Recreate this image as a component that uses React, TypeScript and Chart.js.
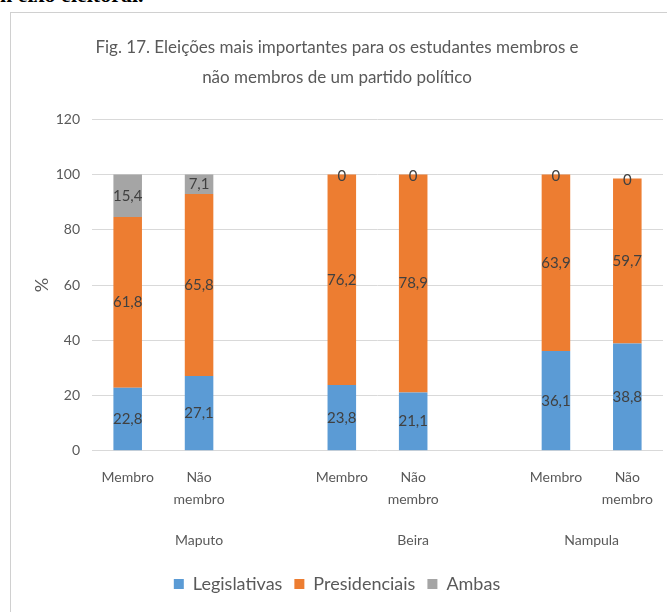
import React, { useEffect, useRef } from "react";
import { Chart, registerables } from "chart.js";

Chart.register(...registerables);

const categories: (string | string[])[] = [
  "Membro", ["Não", "membro"], "",
  "Membro", ["Não", "membro"], "",
  "Membro", ["Não", "membro"],
];
const cities = ["Maputo", "Beira", "Nampula"];
const cityPositions = [1, 4, 6.5];
const legislativas = [22.8, 27.1, null, 23.8, 21.1, null, 36.1, 38.8];
const presidenciais = [61.8, 65.8, null, 76.2, 78.9, null, 63.9, 59.7];
const ambas = [15.4, 7.1, null, 0, 0, null, 0, 0];
const yTicks = [0, 20, 40, 60, 80, 100, 120];
const titleLines = [
  "Fig. 17. Eleições mais importantes para os estudantes membros e",
  "não membros de um partido político",
];

const FONT = "Lato, 'Open Sans', sans-serif";
const TEXT = "#595959";

const labelPlugin = {
  id: "barLabels",
  afterDatasetsDraw(chart: any) {
    const ctx = chart.ctx;
    ctx.save();
    ctx.font = `15px ${FONT}`;
    ctx.fillStyle = "#404040";
    ctx.textAlign = "center";
    ctx.textBaseline = "middle";
    chart.data.datasets.forEach((ds: any, di: number) => {
      const meta = chart.getDatasetMeta(di);
      meta.data.forEach((el: any, i: number) => {
        const v = ds.data[i];
        if (v === null || v === undefined) return;
        const p = el.getProps(["x", "y", "base"], true);
        const y = v === 0 ? p.y + 2 : (p.y + p.base) / 2;
        ctx.fillText(String(v).replace(".", ","), p.x, y);
      });
    });
    ctx.restore();
  },
};

export default function App() {
  const ref = useRef<HTMLCanvasElement>(null);
  useEffect(() => {
    document.body.style.margin = "0";
    const chart = new Chart(ref.current!, {
      type: "bar",
      data: {
        labels: categories,
        datasets: [
          { label: "Legislativas", data: legislativas, backgroundColor: "#5B9BD5" },
          { label: "Presidenciais", data: presidenciais, backgroundColor: "#ED7D31" },
          { label: "Ambas", data: ambas, backgroundColor: "#A5A5A5" },
        ],
      },
      options: {
        animation: false,
        responsive: false,
        datasets: { bar: { barPercentage: 0.4, categoryPercentage: 1 } },
        layout: { padding: { left: 0, right: 4, top: 0, bottom: 10 } },
        scales: {
          x: {
            stacked: true,
            grid: { display: false },
            border: { display: false },
            ticks: {
              color: TEXT,
              font: { family: FONT, size: 14, lineHeight: 1.55 },
              maxRotation: 0,
              autoSkip: false,
              padding: 8,
            },
          },
          x2: {
            type: "linear",
            position: "bottom",
            offset: false,
            min: -0.5,
            max: 7.5,
            grid: { display: false, drawTicks: false },
            border: { display: false },
            afterBuildTicks: (s: any) => {
              s.ticks = cityPositions.map((v) => ({ value: v }));
            },
            ticks: {
              color: TEXT,
              font: { family: FONT, size: 14 },
              padding: 14,
              maxRotation: 0,
              autoSkip: false,
              callback: (v: any) => cities[cityPositions.indexOf(Number(v))] ?? "",
            },
          },
          y: {
            stacked: true,
            min: 0,
            max: 120,
            afterBuildTicks: (s: any) => {
              s.ticks = yTicks.map((v) => ({ value: v }));
            },
            afterFit: (s: any) => {
              s.width = 81;
            },
            grid: { color: "#D9D9D9", drawTicks: false },
            border: { display: false },
            ticks: { color: TEXT, font: { family: FONT, size: 14 }, padding: 12 },
            title: { display: true, text: "%", color: TEXT, font: { family: FONT, size: 18 }, padding: 20 },
          },
        },
        plugins: {
          title: {
            display: true,
            text: titleLines,
            color: TEXT,
            font: { family: FONT, size: 17, weight: "normal", lineHeight: 1.8 },
            padding: { top: 19, bottom: 26 },
          },
          legend: {
            position: "bottom",
            labels: { color: TEXT, font: { family: FONT, size: 18 }, boxWidth: 10, boxHeight: 10, padding: 12 },
          },
          tooltip: { enabled: false },
        },
      },
      plugins: [labelPlugin],
    } as any);
    return () => chart.destroy();
  }, []);
  return (
    <div style={{ position: "relative", width: 667, height: 612, overflow: "hidden", background: "#fff" }}>
      <div style={{ position: "absolute", left: 0, top: -18, fontFamily: "'Liberation Serif', serif", fontWeight: "bold", fontSize: 22, whiteSpace: "nowrap", color: "#000" }}>
        n eixo eleitoral.
      </div>
      <div style={{ position: "absolute", left: 10, top: 12, width: 670, height: 610, border: "1px solid #D0D0D0", boxSizing: "border-box" }}>
        <canvas ref={ref} width={656} height={600} style={{ display: "block" }} />
      </div>
    </div>
  );
}
